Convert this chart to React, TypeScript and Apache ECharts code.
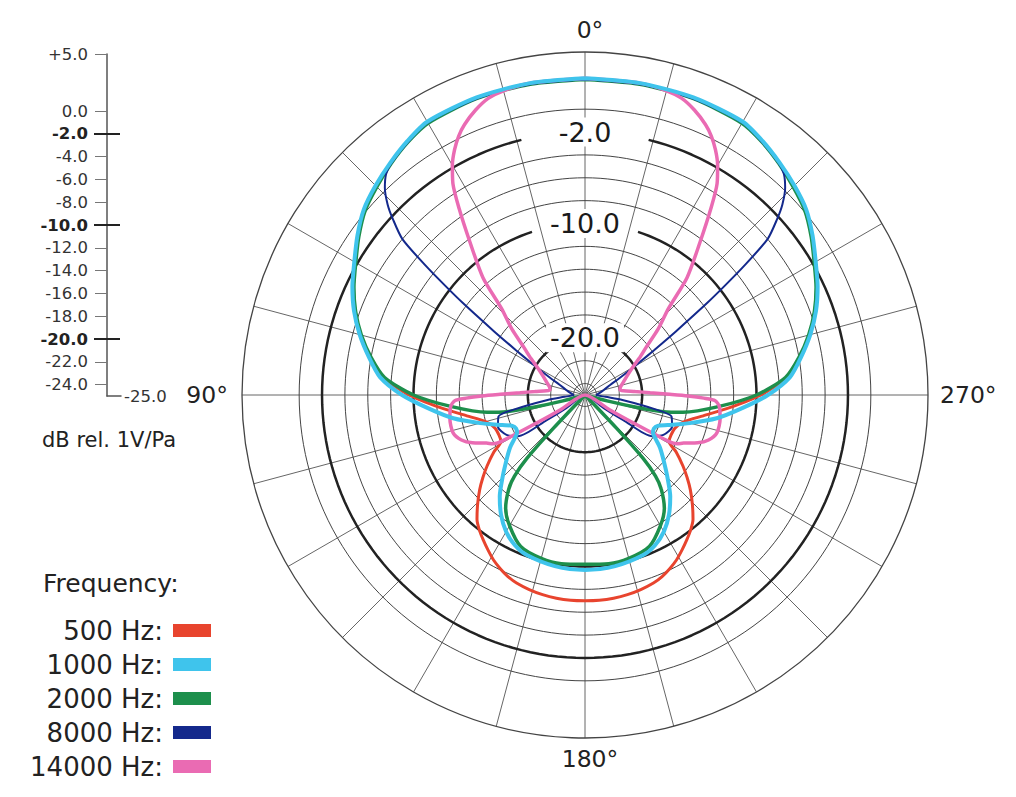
import React, { useEffect, useRef } from "react";
import * as echarts from "echarts";

const FONT = "DejaVu Sans";

// ---- series (left half of a symmetric pattern, angle in degrees, level in dB) ----
const FREQ_NAMES = ["500 Hz", "1000 Hz", "2000 Hz", "8000 Hz", "14000 Hz"];
const FREQ_COLORS = ["#e8442e", "#3fc4ec", "#1d8f4c", "#14298c", "#ea6bb3"];

const angles500 = [0, 10, 20, 30, 35, 40, 45, 50, 55, 60, 65, 70, 75, 80, 85, 90, 95, 100, 105, 110, 115, 119, 122, 126, 129, 132, 135.5, 139, 142, 145, 148, 151, 154, 157, 160, 164, 168, 172, 176, 180];
const db500 = [2.65, 2.65, 2.65, 2.5, 2.05, 1.45, 0.8, 0.15, -0.8, -1.8, -2.65, -3.6, -4.7, -5.9, -7.3, -9.6, -12.3, -14.5, -16.0, -16.6, -16.7, -16.6, -15.6, -14.4, -13.5, -12.6, -11.6, -10.6, -10.0, -9.5, -9.0, -8.5, -8.1, -7.75, -7.5, -7.3, -7.15, -7.05, -7.0, -7.0];

const angles1000 = [0, 10, 20, 30, 35, 40, 45, 50, 55, 60, 65, 70, 75, 80, 85, 90, 95, 100, 105, 110, 113, 116, 119, 122, 125, 130, 135, 140, 145, 150, 155, 160, 170, 180];
const db1000 = [2.7, 2.7, 2.7, 2.6, 2.1, 1.5, 0.9, 0.25, -0.7, -1.7, -2.55, -3.5, -4.6, -5.8, -7.0, -9.0, -11.3, -13.3, -15.5, -17.3, -18.1, -18.3, -18.2, -17.7, -17.0, -16.0, -14.8, -13.4, -12.2, -11.2, -10.5, -10.1, -9.8, -9.7];

const angles2000 = [0, 10, 20, 30, 35, 40, 45, 50, 55, 60, 65, 70, 75, 80, 85, 90, 95, 100, 102, 103.5, 105, 107, 135, 136.5, 137.5, 139, 141, 145, 150, 157, 165, 172, 180];
const db2000 = [2.6, 2.6, 2.6, 2.45, 2.0, 1.4, 0.75, 0.1, -0.85, -1.85, -2.7, -3.65, -4.75, -6.0, -7.4, -10.0, -13.3, -16.3, -18.0, -20.5, -23.0, -25, -25, -21, -17.5, -15.6, -14.4, -12.9, -11.8, -10.6, -10.2, -10.1, -10.2];

const angles8000 = [0, 10, 20, 30, 35, 40, 42, 44, 46, 47.5, 49.5, 51, 52, 53, 55, 57, 59, 61, 64.5, 68, 75, 82, 90, 95, 97.5, 101.5, 104, 110, 117, 121.5, 123.3, 125, 128, 180];
const db8000 = [2.6, 2.6, 2.6, 2.5, 2.0, 1.4, 1.0, 0.2, -1.0, -2.2, -4.0, -7.2, -9.5, -11.6, -15.3, -17.8, -19.4, -20.5, -21.8, -22.6, -23.3, -23.7, -24.0, -23.2, -21.7, -18.7, -17.2, -16.9, -17.3, -18.1, -21.0, -23.0, -25, -25];

const angles14000 = [0, 10, 15, 18, 21, 24, 26, 28, 30, 32, 34, 37, 41, 44, 48, 52, 56, 60, 66, 72, 78, 82, 86, 88, 89.5, 90.5, 91.5, 92.5, 95, 100, 106, 110, 113, 116, 118, 119, 120, 121, 122, 180];
const db14000 = [2.7, 2.7, 2.55, 2.3, 1.7, 0.9, 0.2, -0.7, -1.8, -3.2, -5.3, -8.3, -11.4, -14.5, -16.4, -18.2, -19.3, -20.2, -21.0, -21.5, -21.85, -21.9, -20.6, -19.3, -17.6, -16.0, -14.6, -13.6, -13.2, -13.0, -13.0, -13.5, -14.3, -15.4, -15.9, -16.6, -20.1, -22.5, -25, -25];

// ---- grid rings (dB) ----
const RING_THIN = [0, -4, -6, -8, -12, -14, -16, -18, -22, -24];
const RING_BOLD = [-2, -10, -20];
const RING_BOLD_GAP = [14, 18, 39];

// ---- left scale ----
const SCALE_LABELS = [5, 0, -2, -4, -6, -8, -10, -12, -14, -16, -18, -20, -22, -24];
const SCALE_BOLD = [-2, -10, -20];

function mirror(angles: number[], values: number[]) {
  const pts: [number, number][] = [];
  for (let i = 0; i < angles.length; i++) pts.push([values[i], angles[i]]);
  for (let i = angles.length - 2; i >= 0; i--) pts.push([values[i], 360 - angles[i]]);
  return pts;
}

function ring(db: number, gap: number) {
  const pts: [number, number][] = [];
  for (let a = gap; a <= 360 - gap + 0.001; a += 2) pts.push([db, a]);
  if (pts[pts.length - 1][1] !== 360 - gap) pts.push([db, 360 - gap]);
  return pts;
}

function txt(text: string, x: number, y: number, size: number, align: string) {
  return {
    type: "text",
    x,
    y,
    z: 100,
    silent: true,
    style: {
      text,
      fill: "#222",
      fontSize: size,
      fontFamily: FONT,
      align,
      verticalAlign: "middle",
      textAlign: align,
      textVerticalAlign: "middle",
    },
  };
}

export default function App() {
  const ref = useRef<HTMLDivElement>(null);

  useEffect(() => {
    if (!ref.current) return;
    const chart = echarts.init(ref.current, undefined, { renderer: "svg" });

    const curves = [
      { a: angles500, v: db500, w: 3, z: 3 },
      { a: angles1000, v: db1000, w: 4, z: 7 },
      { a: angles2000, v: db2000, w: 3.5, z: 4 },
      { a: angles8000, v: db8000, w: 2, z: 5 },
      { a: angles14000, v: db14000, w: 3.5, z: 6 },
    ];

    const series: any[] = [];
    RING_THIN.forEach((db) => {
      series.push({
        type: "line",
        coordinateSystem: "polar",
        data: ring(db, 0),
        symbol: "none",
        silent: true,
        z: 1,
        lineStyle: { color: "#444", width: 1 },
      });
    });
    RING_BOLD.forEach((db, i) => {
      series.push({
        type: "line",
        coordinateSystem: "polar",
        data: ring(db, RING_BOLD_GAP[i]),
        symbol: "none",
        silent: true,
        z: 1,
        lineStyle: { color: "#222", width: 2.5 },
      });
    });
    curves.forEach((c, i) => {
      series.push({
        name: FREQ_NAMES[i],
        type: "line",
        coordinateSystem: "polar",
        data: mirror(c.a, c.v),
        symbol: "none",
        smooth: 0.25,
        z: c.z,
        color: FREQ_COLORS[i],
        lineStyle: { color: FREQ_COLORS[i], width: c.w },
      });
    });
    series.push({
      type: "scatter",
      coordinateSystem: "polar",
      data: RING_BOLD.map((db) => [db, 0]),
      symbol: "circle",
      symbolSize: 0,
      silent: true,
      z: 20,
      itemStyle: { color: "#fff", opacity: 1 },
      label: {
        show: true,
        position: [0, 0],
        align: "center",
        verticalAlign: "middle",
        formatter: (p: any) => p.value[0].toFixed(1),
        fontFamily: FONT,
        fontSize: 27,
        color: "#1a1a1a",
        opacity: 1,
        textBorderWidth: 0,
        backgroundColor: "#fff",
        padding: [1, 4],
      },
    });

    const scaleAxisBase = {
      type: "value",
      min: -25,
      max: 5,
      gridIndex: 0,
      position: "left",
      splitLine: { show: false },
    };

    chart.setOption({
      animation: false,
      backgroundColor: "#fff",
      textStyle: { fontFamily: FONT },
      polar: { center: [585, 395], radius: 343 },
      angleAxis: {
        type: "value",
        min: 0,
        max: 360,
        interval: 15,
        startAngle: 90,
        clockwise: false,
        axisLine: { show: true, lineStyle: { color: "#444", width: 1.3 } },
        axisTick: { show: false },
        axisLabel: { show: false },
        splitLine: { show: true, lineStyle: { color: "#666", width: 1 } },
      },
      radiusAxis: {
        type: "value",
        min: -25,
        max: 5,
        axisLine: { show: false },
        axisTick: { show: false },
        axisLabel: { show: false },
        splitLine: { show: false },
      },
      grid: { left: 107, top: 54, width: 14, height: 342 },
      xAxis: {
        type: "value",
        min: 0,
        max: 1,
        gridIndex: 0,
        position: "bottom",
        axisLine: { show: true, onZero: false, lineStyle: { color: "#555", width: 1.5 } },
        axisTick: { show: false },
        axisLabel: { show: false },
        splitLine: { show: false },
        name: "-25.0",
        nameLocation: "end",
        nameGap: 3,
        nameTextStyle: { fontFamily: FONT, fontSize: 16.5, color: "#333" },
      },
      yAxis: [
        {
          ...scaleAxisBase,
          axisLine: { show: true, onZero: false, lineStyle: { color: "#555", width: 1.5 } },
          axisTick: { show: true, length: 12, customValues: SCALE_LABELS, lineStyle: { color: "#777", width: 1 } },
          axisLabel: {
            show: true,
            customValues: SCALE_LABELS,
            margin: 19,
            fontFamily: FONT,
            fontSize: 16.5,
            color: "#333",
            formatter: (v: number) => {
              const s = v > 0 ? "+" + v.toFixed(1) : v.toFixed(1);
              return SCALE_BOLD.indexOf(v) >= 0 ? "{b|" + s + "}" : s;
            },
            rich: { b: { fontFamily: FONT, fontSize: 16.5, fontWeight: "bold", color: "#222" } },
          },
        },
        {
          ...scaleAxisBase,
          axisLine: { show: false, onZero: false },
          axisLabel: { show: false },
          axisTick: { show: true, length: 13, customValues: SCALE_BOLD, lineStyle: { color: "#222", width: 2 } },
        },
        {
          ...scaleAxisBase,
          axisLine: { show: false, onZero: false },
          axisLabel: { show: false },
          axisTick: { show: true, inside: true, length: 13, customValues: SCALE_BOLD, lineStyle: { color: "#222", width: 2 } },
        },
      ],
      legend: {
        orient: "vertical",
        right: 805,
        top: 617.5,
        padding: 0,
        itemGap: 8,
        itemWidth: 38,
        itemHeight: 13,
        icon: "rect",
        align: "right",
        selectedMode: false,
        data: FREQ_NAMES,
        formatter: (n: string) => n + ":",
        itemStyle: { borderWidth: 0 },
        textStyle: { fontFamily: FONT, fontSize: 26, color: "#222", lineHeight: 26, padding: [0, 5, 0, 0] },
      },
      graphic: [
        txt("0°", 590, 30, 23.5, "center"),
        txt("90°", 228, 395, 23.5, "right"),
        txt("270°", 940, 395, 23.5, "left"),
        txt("180°", 590, 759, 23.5, "center"),
        txt("dB rel. 1V/Pa", 42, 440, 21, "left"),
        txt("Frequency:", 43, 583, 25, "left"),
      ],
      series,
    });

    return () => chart.dispose();
  }, []);

  return (
    <div
      ref={ref}
      style={{ position: "absolute", left: 0, top: 0, width: 1016, height: 797 }}
    />
  );
}
